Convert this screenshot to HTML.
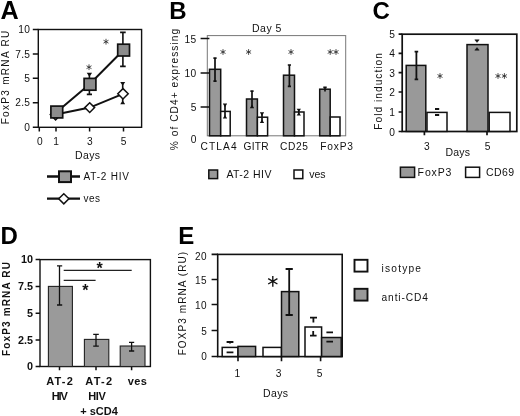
<!DOCTYPE html>
<html><head><meta charset="utf-8">
<style>
html,body{margin:0;padding:0;background:#fff;}
body{width:520px;height:416px;overflow:hidden;}
svg{display:block;filter:blur(0.35px);}
text{font-family:"Liberation Sans",sans-serif;fill:#111;}
.t{font-size:10.5px;}
.s{font-size:9.7px;letter-spacing:0.5px;}
.b{font-weight:bold;font-size:10.5px;}
.L{font-weight:bold;font-size:23px;fill:#000;}
.g{fill:#999;stroke:#111;stroke-width:1.5;}
.w{fill:#fff;stroke:#111;stroke-width:1.5;}
.e{stroke:#111;stroke-width:1.3;fill:none;}
.ax{stroke:#111;stroke-width:1.5;fill:none;}
</style></head><body>
<svg width="520" height="416" viewBox="0 0 520 416">
<rect width="520" height="416" fill="#fff"/>

<!-- ================= PANEL A ================= -->
<defs>
<g id="ast"><path d="M0 -2.9V2.9 M-2.5 -1.45L2.5 1.45 M-2.5 1.45L2.5 -1.45" stroke="#222" stroke-width="0.8" fill="none"/></g>
</defs>
<g id="A">
<text class="L" x="0.4" y="19" style="font-size:25.2px">A</text>
<!-- axes -->
<rect class="ax" x="38.3" y="29.5" width="103.3" height="97.8" style="stroke-width:1.4"/>
<path class="ax" d="M32.8 29.5H38.5 M32.8 54H38.5 M32.8 78.3H38.5 M32.8 102.8H38.5 M32.8 127.3H38.5 M56 127V131.5 M89.6 127V131.5 M123.5 127V131.5 M39.3 127V131.5"/>
<g class="s" text-anchor="end" style="font-size:10.2px;letter-spacing:0.35px">
<text x="30.4" y="33">10</text>
<text x="30.4" y="57.5">7.5</text>
<text x="30.4" y="81.8">5</text>
<text x="30.4" y="106.3">2.5</text>
<text x="30.4" y="130.8">0</text>
</g>
<g class="s" text-anchor="middle" style="font-size:10.2px;letter-spacing:0">
<text x="39.8" y="145.3">0</text>
<text x="56" y="145.3">1</text>
<text x="89.8" y="145.3">3</text>
<text x="123.6" y="145.3">5</text>
</g>
<text class="t" x="75" y="159" textLength="25" lengthAdjust="spacing">Days</text>
<text class="s" transform="translate(9.3,124.3) rotate(-90)" textLength="94" style="font-size:10px" lengthAdjust="spacing">FoxP3 mRNA RU</text>
<!-- error bars -->
<path class="e" style="stroke-width:1.6" d="M122.9 32.4V66.4 M120.1 32.4H125.7 M120.1 66.4H125.7 M89.4 74V94.4 M86.8 94.4H92"/>
<path class="e" style="stroke-width:1.6" d="M122.7 83V103"/>
<path d="M120.2 82H125.2L122.7 85.8Z M120.2 104.2H125.2L122.7 100.4Z M86.7 72.7H92.1L89.4 76.7Z" fill="#111"/>
<!-- lines -->
<path d="M56.7 112L89.5 84.2L123.5 50" stroke="#111" stroke-width="2" fill="none"/>
<path d="M55.6 114.6L89.7 107.6L123 93.8" stroke="#111" stroke-width="2" fill="none"/>
<!-- markers -->
<path class="w" d="M55.6 109.3L60.9 114.6L55.6 119.9L50.3 114.6Z"/>
<rect class="g" style="fill:#8c8c8c;stroke-width:1.7" x="50.9" y="106.1" width="11.8" height="11.8"/>
<rect class="g" style="fill:#8c8c8c;stroke-width:1.7" x="84.1" y="78.4" width="11.8" height="11.8"/>
<rect class="g" style="fill:#8c8c8c;stroke-width:1.7" x="117.7" y="44.2" width="11.8" height="11.8"/>
<path class="w" d="M89.7 102.7L94.6 107.6L89.7 112.5L84.8 107.6Z"/>
<path class="w" d="M123 88.6L128.2 93.8L123 99L117.8 93.8Z"/>
<use href="#ast" x="89" y="67.2"/>
<use href="#ast" x="106" y="41.7"/>
<!-- legend -->
<path d="M47 176.5H80 M47 198.7H80" stroke="#111" stroke-width="2.3"/>
<rect class="g" style="fill:#979797;stroke-width:2" x="59" y="171.3" width="12" height="10.8"/>
<path class="w" d="M63.8 193.7L68.9 198.8L63.8 203.9L58.7 198.8Z"/>
<text class="t" x="83.6" y="179.8" textLength="45.4" lengthAdjust="spacing" style="font-size:10px">AT-2 HIV</text>
<text class="t" x="83.6" y="201.8" textLength="16.5" lengthAdjust="spacing" style="font-size:10px">ves</text>
</g>

<!-- ================= PANEL B ================= -->
<g id="B">
<text class="L" x="169.3" y="18.6" style="font-size:24px">B</text>
<rect x="207.3" y="35.6" width="138.4" height="100.2" fill="none" stroke="#777" stroke-width="1"/>
<path class="ax" d="M200.6 38.5H209.4 M200.6 73H209.4 M200.6 107H209.4"/>
<g class="s" text-anchor="end" style="font-size:10.2px">
<text x="196.8" y="42.8">15</text>
<text x="196.8" y="77">10</text>
<text x="196.8" y="110.8">5</text>
<text x="197" y="143">0</text>
</g>
<text class="t" x="252" y="32.3" textLength="29.4" lengthAdjust="spacing">Day 5</text>
<text class="t" transform="translate(177.8,150.3) rotate(-90)" textLength="121.5" lengthAdjust="spacing" style="font-size:10.2px">% of CD4+ expressing</text>
<!-- bars -->
<g style="stroke-width:1.7">
<rect class="g" x="209.5" y="69.3" width="11.2" height="66.5"/>
<rect class="w" x="220.7" y="111.4" width="9.5" height="24.4"/>
<rect class="g" x="246.5" y="99" width="10.9" height="36.8"/>
<rect class="w" x="257.4" y="117.2" width="10.2" height="18.6"/>
<rect class="g" x="283.5" y="75.2" width="11" height="60.6"/>
<rect class="w" x="294.5" y="112" width="9.5" height="23.8"/>
<rect class="g" x="319.7" y="89.2" width="10.5" height="46.6"/>
<rect class="w" x="330.2" y="117" width="9.8" height="18.8"/>
</g>
<!-- errors -->
<path class="e" style="stroke-width:1.7" d="M215 58.2V81.2 M213.4 58.2H216.6 M213.4 81.2H216.6 M225 104.2V118 M252 91.2V107.7 M250.4 91.2H253.6 M262 112.9V122.4 M289.4 65V86.4 M287.8 65H291 M287.8 86.4H291 M298.8 109.5V115 M325 87.2V91.5 M323.3 87.4H326.7"/>
<path d="M222.8 103.6H227.2L225 107.2Z M222.8 118.6H227.2L225 115Z M249.8 108.2H254.2L252 104.6Z M259.8 112.3H264.2L262 115.7Z M259.8 123H264.2L262 119.6Z M296.6 108.8H301L298.8 111.8Z M296.6 115.6H301L298.8 112.6Z" fill="#111"/>
<use href="#ast" x="223" y="52"/>
<use href="#ast" x="248.6" y="52"/>
<use href="#ast" x="291" y="52"/>
<use href="#ast" x="330.2" y="52"/>
<use href="#ast" x="336" y="52"/>
<text class="t" x="200.6" y="150.2" textLength="36" lengthAdjust="spacing" style="font-size:10.2px">CTLA4</text>
<text class="t" x="243.5" y="150.2" textLength="25" lengthAdjust="spacing" style="font-size:10.2px">GITR</text>
<text class="t" x="280" y="150.2" textLength="28" lengthAdjust="spacing" style="font-size:10.2px">CD25</text>
<text class="t" x="320.3" y="150.2" textLength="32.7" lengthAdjust="spacing" style="font-size:10.2px">FoxP3</text>
<!-- legend -->
<rect class="g" x="208.8" y="170" width="8.8" height="8.6"/>
<text class="t" x="226.4" y="177.7" textLength="45" lengthAdjust="spacing">AT-2 HIV</text>
<rect class="w" x="294" y="170" width="8.8" height="8.6"/>
<text class="t" x="309.3" y="177.7" textLength="16.2" lengthAdjust="spacing">ves</text>
</g>

<!-- ================= PANEL C ================= -->
<g id="C">
<text class="L" x="372.4" y="19.2" style="font-size:24px">C</text>
<rect class="ax" x="402.2" y="34.2" width="114.6" height="97.3" style="stroke-width:1.7"/>
<path class="ax" d="M398.6 34.2H402.3 M398.6 53.4H402.3 M398.6 72.7H402.3 M398.6 92H402.3 M398.6 112H402.3 M398.6 131.5H402.3 M424.4 131.2V135.2 M487 131.2V135.2" style="stroke-width:1.7"/>
<g class="s" text-anchor="end" style="font-size:10.2px">
<text x="395.4" y="38">5</text>
<text x="395.4" y="57.2">4</text>
<text x="395.4" y="76.5">3</text>
<text x="395.4" y="95.8">2</text>
<text x="395.4" y="115.6">1</text>
<text x="395.4" y="135.7">0</text>
</g>
<text class="t" transform="translate(381.7,129.8) rotate(-90)" textLength="76.8" lengthAdjust="spacing" style="font-size:10.2px">Fold induction</text>
<g style="stroke-width:1.8">
<rect class="g" x="406.2" y="65.4" width="19.6" height="66"/>
<rect class="w" x="427" y="112.4" width="20" height="19"/>
<rect class="g" x="467" y="44.6" width="21" height="86.8"/>
<rect class="w" x="489.2" y="112.4" width="20.8" height="19"/>
</g>
<path class="e" d="M416.4 51.6V79.4 M414.6 51.6H418.2 M414.6 79.4H418.2 M435 109H439.2 M435 115H439.2" style="stroke-width:1.8"/>
<path d="M474.8 39.8H479.2L477 42.4Z M474.8 50.2H479.2L477 47.6Z" fill="#111" stroke="#111" stroke-width="0.5"/>
<use href="#ast" x="440" y="76"/>
<use href="#ast" x="498" y="76"/>
<use href="#ast" x="504.4" y="76"/>
<g class="s" text-anchor="middle" style="font-size:10.2px">
<text x="427" y="149.6">3</text>
<text x="487.8" y="149.6">5</text>
</g>
<text class="t" x="445.5" y="155.6" textLength="24.5" lengthAdjust="spacing">Days</text>
<rect class="g" x="400.4" y="167.2" width="14.2" height="10.2"/>
<text class="t" x="417.6" y="176" textLength="33.8" lengthAdjust="spacing">FoxP3</text>
<rect class="w" x="465.6" y="167.2" width="14" height="10.2"/>
<text class="t" x="486" y="176" textLength="28" lengthAdjust="spacing">CD69</text>
</g>

<!-- ================= PANEL D ================= -->
<g id="D">
<text class="L" x="0.5" y="243.7" style="font-size:24px">D</text>
<rect class="ax" x="40" y="259.6" width="110.4" height="106.9" style="stroke-width:1.4"/>
<path class="ax" d="M35.6 259.6H40 M35.6 286.4H40 M35.6 313.2H40 M35.6 340H40 M35.6 366.5H40 M59.5 366.5V370.3 M96 366.5V370.3 M131.6 366.5V370.3"/>
<g class="b" text-anchor="end" style="font-size:10.8px">
<text x="33" y="263.4">10</text>
<text x="33" y="290.2">7.5</text>
<text x="33" y="317">5</text>
<text x="33" y="343.8">2.5</text>
<text x="33" y="370.3">0</text>
</g>
<text class="b" transform="translate(9.8,356) rotate(-90)" textLength="94" lengthAdjust="spacing" style="font-size:10px">FoxP3 mRNA RU</text>
<rect x="48.4" y="286.4" width="24" height="80.1" fill="#9a9a9a" stroke="#222" stroke-width="1.1"/>
<rect x="84.4" y="339.4" width="24.4" height="27.1" fill="#9a9a9a" stroke="#222" stroke-width="1.1"/>
<rect x="120.2" y="346" width="24.8" height="20.5" fill="#9a9a9a" stroke="#222" stroke-width="1.1"/>
<path class="e" style="stroke-width:1.3" d="M59.5 265.8V305 M57 265.8H62.2 M57 305H62.2 M96 334.4V346.2 M93.2 334.4H98.8 M93.2 346.2H98.8 M131.6 342.4V351 M129 342.4H134.2 M129 351H134.2"/>
<path d="M63.7 270.4H131.7 M63.7 280.4H95.6" stroke="#222" stroke-width="1.1"/>
<text class="b" x="99.7" y="274.2" text-anchor="middle" style="font-size:16px">*</text>
<text class="b" x="85.3" y="295.8" text-anchor="middle" style="font-size:16px">*</text>
<g class="b" style="font-size:11px">
<text x="46.2" y="385.4" textLength="26.6" lengthAdjust="spacing">AT-2</text>
<text x="51.7" y="399.6" textLength="16.2" lengthAdjust="spacing">HIV</text>
<text x="85.2" y="385.4" textLength="27" lengthAdjust="spacing">AT-2</text>
<text x="88.2" y="399.6" textLength="17.6" lengthAdjust="spacing">HIV</text>
<text x="80.2" y="414.6" textLength="37.6" lengthAdjust="spacing">+ sCD4</text>
<text x="127.7" y="385.4" textLength="19.2" lengthAdjust="spacing">ves</text>
</g>
</g>

<!-- ================= PANEL E ================= -->
<g id="E">
<text class="L" x="178.3" y="244.2" style="font-size:24px">E</text>
<rect class="ax" x="217.7" y="254.4" width="124.5" height="102.2" style="stroke-width:1.6"/>
<path class="ax" d="M211.6 254.4H218 M211.6 279.5H218 M211.6 304.5H218 M211.6 330.5H218 M211.6 356.5H218 M238 356.5V361.2 M281.5 356.5V361.2 M320.6 356.5V361.2" style="stroke-width:1.6"/>
<g class="s" text-anchor="end" style="font-size:10px">
<text x="207.2" y="259.6">20</text>
<text x="207.2" y="283.5">15</text>
<text x="207.2" y="309.4">10</text>
<text x="207.2" y="334.8">5</text>
<text x="207.2" y="360.4">0</text>
</g>
<text class="s" transform="translate(185.8,355.3) rotate(-90)" textLength="104" lengthAdjust="spacing" style="font-size:10px">FOXP3 mRNA (RU)</text>
<g style="stroke-width:1.8">
<rect class="w" x="222.2" y="347.4" width="15.8" height="9.1"/>
<rect class="g" x="238" y="346.4" width="17.6" height="10.1"/>
<rect class="w" x="263" y="347.4" width="18.5" height="9.1"/>
<rect class="g" x="281.5" y="291.6" width="17.3" height="64.9"/>
<rect class="w" x="305" y="327" width="16.6" height="29.5"/>
<rect class="g" x="321.6" y="337.5" width="19.6" height="19"/>
</g>
<path class="e" style="stroke-width:1.8" d="M289.2 269V315 M285.6 269H292.8 M285.6 315H292.8 M313.4 317.4V322.4 M310 317.6H317 M313.2 331V335.6 M310 335.6H316.6 M226.6 342H233.4 M230 342V343.6 M226.6 352.4H233.4 M326.4 332.4H333 M326.4 341.6H333"/>
<g transform="translate(272.8,281.3) scale(1.85)"><path d="M0 -2.9V2.9 M-2.5 -1.45L2.5 1.45 M-2.5 1.45L2.5 -1.45" stroke="#111" stroke-width="0.75" fill="none"/></g>
<g class="s" text-anchor="middle" style="font-size:10.2px">
<text x="237.7" y="377">1</text>
<text x="278.9" y="376.8">3</text>
<text x="319.9" y="376.8">5</text>
</g>
<text class="t" x="263" y="397.2" textLength="25" lengthAdjust="spacing">Days</text>
<rect class="w" x="354.5" y="259.8" width="13" height="11.8" style="stroke-width:1.9"/>
<rect class="g" x="354.5" y="288.8" width="13" height="11.8" style="stroke-width:1.9"/>
<text class="t" x="381.5" y="271.8" textLength="39.5" lengthAdjust="spacing" style="font-size:10.2px">isotype</text>
<text class="t" x="381.5" y="300.6" textLength="46.5" lengthAdjust="spacing" style="font-size:10.2px">anti-CD4</text>
</g>
</svg>
</body></html>
